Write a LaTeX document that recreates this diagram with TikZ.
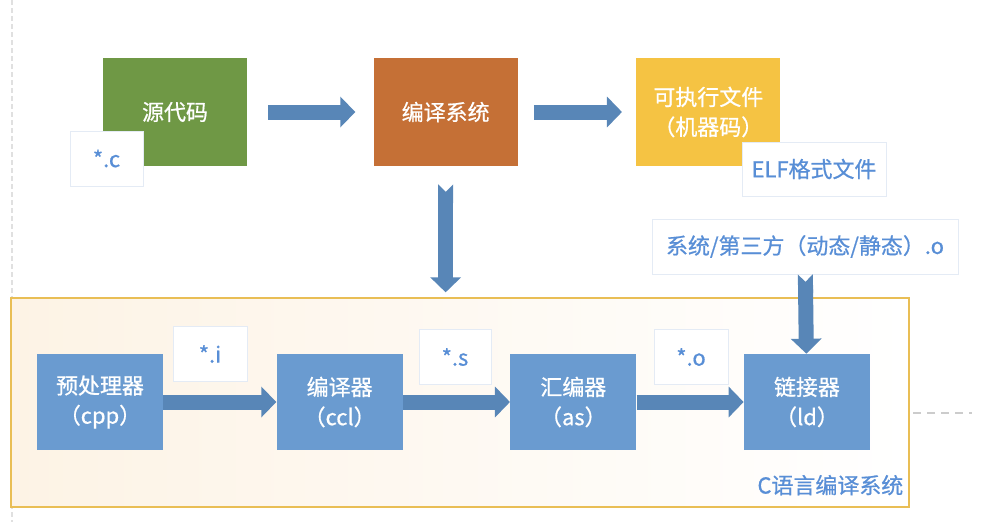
\documentclass[tikz,border=0pt]{standalone}
\usepackage{fontspec}
\newfontfamily\cjk[FakeBold=0.7]{Noto Sans CJK SC}
\usetikzlibrary{arrows.meta,positioning}
\definecolor{srcgreen}{RGB}{111,152,69}
\definecolor{cmporange}{RGB}{197,112,54}
\definecolor{exeyellow}{RGB}{245,195,67}
\definecolor{toolblue}{RGB}{106,155,208}
\definecolor{arrowblue}{RGB}{88,134,183}
\definecolor{tagblue}{RGB}{88,142,214}
\definecolor{tagline}{RGB}{228,235,245}
\definecolor{framegold}{RGB}{233,190,85}
\definecolor{framebg}{RGB}{253,243,229}
\begin{document}
\begin{tikzpicture}[
    x=0.02cm,y=-0.02cm,
    font=\cjk\fontsize{12.5}{17}\selectfont,
    stage/.style={fill=#1,text=white,minimum width=2.88cm,minimum height=2.16cm,align=center,inner sep=0pt},
    tool/.style={fill=toolblue,text=white,minimum width=2.52cm,minimum height=1.92cm,align=center,inner sep=0pt},
    tag/.style={draw=tagline,fill=white,text=tagblue,minimum height=1.1cm,inner sep=0pt},
    frame/.style={draw=framegold,line width=0.8pt,left color=framebg,right color=white,minimum width=17.96cm,minimum height=4.18cm},
    fat/.style={draw=arrowblue,line width=0.3cm,-{Triangle[length=0.3cm,width=0.6cm]}},
    guide/.style={draw=black!12,dash pattern=on 0.16cm off 0.12cm,line width=0.6pt}
]
\useasboundingbox (0,0) rectangle (1000,522);

% background guides
\coordinate (gtop) at (12,0);
\coordinate (gbot) at (12,522);
\draw[guide,dash pattern=on 0.1cm off 0.06cm] (gtop) -- (gbot);

% top row
\node[stage=srcgreen] (src) at (175,112) {源代码};
\node[stage=cmporange,right=2.52cm of src] (compsys) {编译系统};
\node[stage=exeyellow,right=2.36cm of compsys] (exe) {可执行文件\\（机器码）};

% compiler toolchain
\node[frame] (csys) at (460,402.5) {};
\node[tool] (cpp) at (100,402) {预处理器\\（cpp）};
\node[tool,right=2.26cm of cpp] (ccl) {编译器\\（ccl）};
\node[tool,right=2.14cm of ccl] (as) {汇编器\\（as）};
\node[tool,right=2.14cm of as] (ld) {链接器\\（ld）};
\node[text=tagblue,anchor=south east,inner sep=0pt] (title) at ([xshift=-0.12cm,yshift=0.24cm]csys.south east) {C语言编译系统};

% file tags
\node[tag,minimum width=1.46cm] (dotc) at (106.5,158.5) {*.c};
\node[tag,minimum width=2.88cm,minimum height=1.08cm] (elf) at (814,169) {ELF格式文件};
\node[tag,minimum width=6.12cm] (libs) at (805,246.5) {系统/第三方（动态/静态）.o};
\node[tag,minimum width=1.48cm] (doti) at (210,354) {*.i};
\node[tag,minimum width=1.44cm] (dots) at (455,357) {*.s};
\node[tag,minimum width=1.48cm] (doto) at (691,357) {*.o};

% arrows
\draw[fat,shorten <=0.42cm,shorten >=0.36cm] (src) -- (compsys);
\draw[fat,shorten <=0.32cm,shorten >=0.28cm] (compsys) -- (exe);
\draw[fat,{Triangle Cap[reversed]}-{Triangle[length=0.3cm,width=0.6cm]},shorten <=0.36cm,shorten >=0.1cm] (compsys) -- (compsys |- csys.north);
\draw[fat,{Triangle Cap[reversed]}-{Triangle[length=0.3cm,width=0.6cm]}] (libs) -- (ld);
\draw[fat] (cpp) -- (ccl);
\draw[fat] (ccl) -- (as);
\draw[fat] (as) -- (ld);

% trailing dash
\coordinate (lead) at (913,413);
\coordinate (trail) at (972,413);
\draw[guide,draw=black!20,line width=1.2pt] (lead) -- (trail);
\end{tikzpicture}
\end{document}
